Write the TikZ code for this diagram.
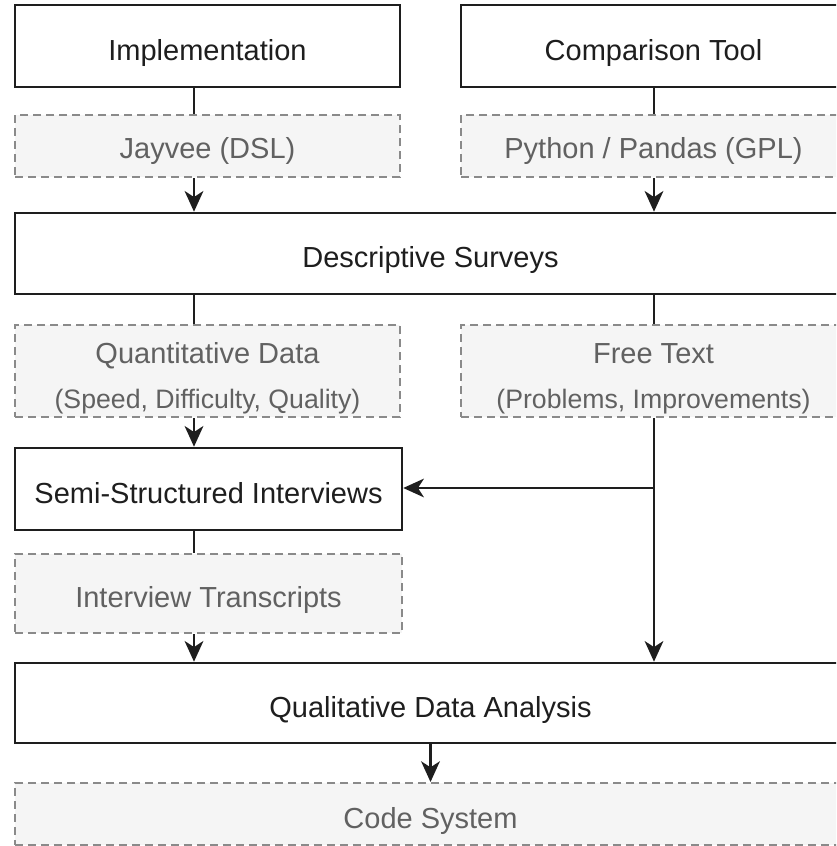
\documentclass[tikz,border=0pt]{standalone}
\usepackage{fontspec}
\setmainfont{Liberation Sans}
\usetikzlibrary{arrows.meta}
\definecolor{dashgray}{HTML}{8A8A8A}
\definecolor{softfill}{HTML}{F5F5F5}
\definecolor{softtext}{HTML}{616161}
\definecolor{inkc}{HTML}{1E1E1E}
\begin{document}
\begin{tikzpicture}[x=0.75pt,y=-0.75pt,
  solidbox/.style={draw=inkc, line width=1.9pt, fill=white, inner sep=0pt,
    font=\fontsize{21.75pt}{26pt}\selectfont, text=inkc, text height=21pt, text depth=0pt},
  softbox/.style={draw=dashgray, line width=1.5pt, dash pattern=on 6pt off 3.75pt,
    fill=softfill, inner sep=0pt, text=softtext,
    font=\fontsize{21.75pt}{26pt}\selectfont, text height=21pt, text depth=0pt},
  twoline/.style={align=center, font=\fontsize{21.75pt}{34pt}\selectfont, text height=, text depth=},
  link/.style={draw=inkc, line width=2pt},
  arrowlink/.style={draw=inkc, line width=2pt, -{Stealth[length=15.5pt,width=14pt,inset=4.5pt]}},
  thinarrow/.style={draw=inkc, line width=1.6pt, -{Stealth[length=15.5pt,width=14pt,inset=4.5pt]}}
]
\useasboundingbox (0,0) rectangle (836,846);
\clip (0,0) rectangle (836,846);

\coordinate (lx) at (194,0);
\coordinate (rx) at (654,0);

\node[solidbox, minimum width=288.75pt, minimum height=61.5pt] (impl) at (207.5,46) {Implementation};
\node[solidbox, minimum width=288.75pt, minimum height=61.5pt] (cmp) at (653.5,46) {Comparison Tool};
\node[softbox, minimum width=288.75pt, minimum height=46.5pt, text height=19pt] (jay) at (207.5,146) {Jayvee (DSL)};
\node[softbox, minimum width=288.75pt, minimum height=46.5pt, text height=19pt] (py) at (653.5,146) {Python / Pandas (GPL)};
\node[solidbox, minimum width=623.25pt, minimum height=60.75pt] (desc) at (430.5,253.5) {Descriptive Surveys};
\node[softbox, twoline, minimum width=288.75pt, minimum height=69pt] (quant) at (207.5,371)
  {\rule{0pt}{27pt}Quantitative Data\\{\fontsize{20pt}{34pt}\selectfont (Speed, Difficulty, Quality)}};
\node[softbox, twoline, minimum width=288.75pt, minimum height=69pt] (free) at (653.5,371)
  {\rule{0pt}{27pt}Free Text\\{\fontsize{20pt}{34pt}\selectfont (Problems, Improvements)}};
\node[solidbox, minimum width=290.25pt, minimum height=61.5pt] (semi) at (208.5,489) {Semi-Structured Interviews};
\node[softbox, minimum width=290.25pt, minimum height=59.25pt] (intv) at (208.5,593.5) {Interview Transcripts};
\node[solidbox, minimum width=623.25pt, minimum height=60pt] (qual) at (430.5,703) {Qualitative Data Analysis};
\node[softbox, minimum width=623.25pt, minimum height=46.5pt] (code) at (430.5,814) {Code System};

\coordinate (branch) at (654,488);

\draw[link] (impl.south -| lx) -- (jay.north -| lx);
\draw[link] (cmp.south -| rx) -- (py.north -| rx);
\draw[arrowlink] (jay.south -| lx) -- (desc.north -| lx);
\draw[arrowlink] (py.south -| rx) -- (desc.north -| rx);
\draw[link] (desc.south -| lx) -- (quant.north -| lx);
\draw[link] (desc.south -| rx) -- (free.north -| rx);
\draw[arrowlink] (quant.south -| lx) -- (semi.north -| lx);
\draw[thinarrow] (free.south -| rx) -- (qual.north -| rx);
\draw[thinarrow] (branch) -- (semi.east |- branch);
\draw[link] (semi.south -| lx) -- (intv.north -| lx);
\draw[arrowlink] (intv.south -| lx) -- (qual.north -| lx);
\draw[arrowlink] (qual.south) -- (code.north);
\end{tikzpicture}
\end{document}
